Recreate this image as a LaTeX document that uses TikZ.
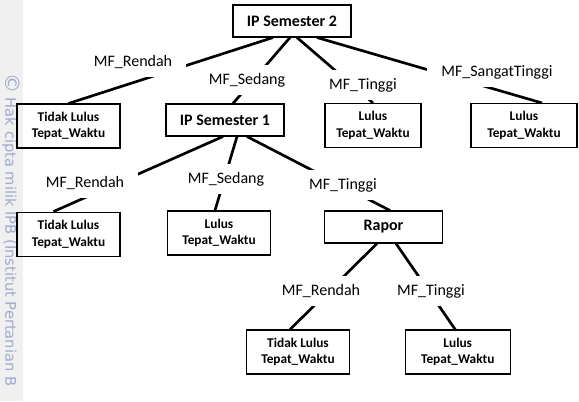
\documentclass[tikz,border=0pt]{standalone}
\usepackage{fontspec}
\setmainfont{Carlito}
\newfontfamily\wmfont{DejaVu Sans}
\usetikzlibrary{positioning,calc}
\definecolor{wmblue}{RGB}{160,170,205}

\tikzset{
  uji/.style={draw, line width=0.8pt, minimum width=88.5pt, minimum height=24pt,
    font=\bfseries\fontsize{12}{14}\selectfont},
  hasil/.style={draw, line width=0.8pt, minimum width=77.25pt, minimum height=33pt,
    align=center, font=\bfseries\fontsize{10}{12.5}\selectfont},
  fungsi/.style={fill=white, inner xsep=10.5pt, minimum height=22.5pt,
    font=\fontsize{12}{14}\selectfont},
  cabang/.style={line width=2pt}
}

\begin{document}
\begin{tikzpicture}[x=0.75pt,y=-0.75pt,node distance=47.25pt]
\useasboundingbox (0,0) rectangle (579,401);

% strip kiri
\fill[gray!12] (0,0) rectangle (23,401);
\begin{scope}
  \clip (0,0) rectangle (23,401);
  \node[wmblue, rotate=-90, anchor=west, inner sep=0pt,
    font=\wmfont\fontsize{11}{12}\selectfont] (wm) at (11,73)
    {{\fontsize{15}{15}\selectfont\textcopyright}\ Hak cipta milik IPB (Institut Pertanian B};
\end{scope}

% kotak
\node[uji] (sem2) at (292,21) {IP Semester 2};
\node[hasil] (tl1) at (68.5,126) {Tidak Lulus\\Tepat\_Waktu};
\node[uji] (sem1) at (225,120) {IP Semester 1};
\node[hasil, minimum width=72pt] (lu1) at (373,125.5) {Lulus\\Tepat\_Waktu};
\node[hasil, minimum width=79.5pt] (lu2) at (524,125.5) {Lulus\\Tepat\_Waktu};
\node[hasil] (tl2) [below=of tl1] {Tidak Lulus\\Tepat\_Waktu};
\node[hasil] (lu3) at (219,233) {Lulus\\Tepat\_Waktu};
\node[uji] (rapor) at (383.5,227) {Rapor};
\node[hasil] (tl3) at (298,352) {Tidak Lulus\\Tepat\_Waktu};
\node[hasil, minimum width=78.75pt] (lu4) [right=41pt of tl3] {Lulus\\Tepat\_Waktu};

% cabang
\draw[cabang] ($(sem2.south)+(-19,0)$) -- (tl1.north);
\draw[cabang] ($(sem2.south)+(-2,0)$) -- ($(sem1.north)+(8,0)$);
\draw[cabang] ($(sem2.south)+(5,0)$) -- (lu1.north);
\draw[cabang] ($(sem2.south)+(25,0)$) -- ($(lu2.north)+(18,0)$);
\draw[cabang] ($(sem1.south)+(-2,0)$) -- ($(tl2.north)+(-15,0)$);
\draw[cabang] ($(sem1.south)+(12,0)$) -- ($(lu3.north)+(-4,0)$);
\draw[cabang] ($(sem1.south)+(22,0)$) -- ($(rapor.north)+(6.5,0)$);
\draw[cabang] ($(rapor.south)+(-6.5,0)$) -- ($(tl3.north)+(-8,0)$);
\draw[cabang] ($(rapor.south)+(12.5,0)$) -- ($(lu4.north)+(-2.5,0)$);

% label fungsi keanggotaan
\node[fungsi] (r1) at (133,62) {MF\_Rendah};
\node[fungsi] (s1) at (247,80) {MF\_Sedang};
\node[fungsi] (t1) at (363,85) {MF\_Tinggi};
\node[fungsi] (st1) at (497,72) {MF\_SangatTinggi};
\node[fungsi] (r2) at (85,183) {MF\_Rendah};
\node[fungsi] (s2) at (226,179) {MF\_Sedang};
\node[fungsi] (t2) at (343,185) {MF\_Tinggi};
\node[fungsi] (r3) at (321,291) {MF\_Rendah};
\node[fungsi] (t3) at (431,291) {MF\_Tinggi};
\end{tikzpicture}
\end{document}
